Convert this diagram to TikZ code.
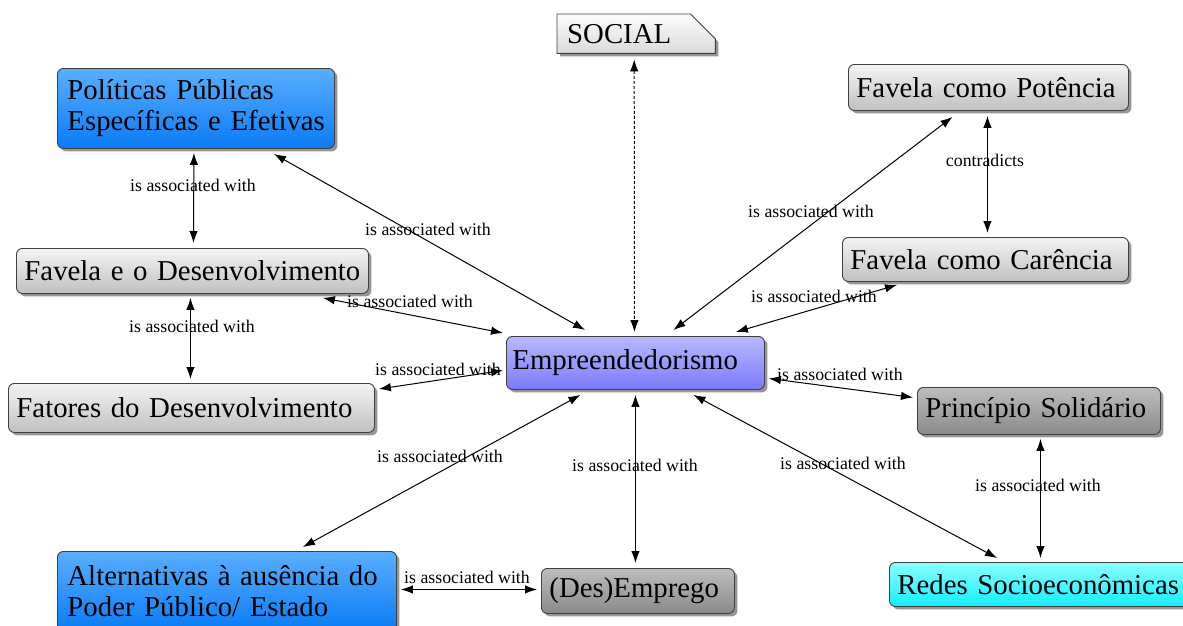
\documentclass[tikz,border=0pt]{standalone}
\usepackage{fontspec}
\setmainfont{Liberation Serif}
\usetikzlibrary{shadows,arrows.meta,calc,backgrounds}
\definecolor{grayT}{HTML}{F4F4F4}
\definecolor{grayB}{HTML}{C0C0C0}
\definecolor{dgrayT}{HTML}{BDBDBD}
\definecolor{dgrayB}{HTML}{8A8A8A}
\definecolor{blueT}{HTML}{5AAEFF}
\definecolor{blueB}{HTML}{0A7BF5}
\definecolor{lavT}{HTML}{B8B8FF}
\definecolor{lavB}{HTML}{7A7AFA}
\definecolor{cyanT}{HTML}{8AFFFF}
\definecolor{cyanB}{HTML}{14EEFF}
\definecolor{socT}{HTML}{FCFCFC}
\definecolor{socB}{HTML}{DADADA}
\newcommand\cmnodefont{\fontsize{28.8}{31}\selectfont\hyphenpenalty=10000\exhyphenpenalty=10000}
\newcommand\cmlabelfont{\fontsize{17.8}{20}\selectfont}
\begin{document}
\begin{tikzpicture}[x=1pt,y=-1pt,
  shad/.style={drop shadow={shadow xshift=3pt,shadow yshift=-3pt,opacity=0.55,fill=black!75}},
  box/.style={draw=black!75,line width=0.9pt,rounded corners=6pt,anchor=north west,
    inner xsep=6pt,inner ysep=2pt,align=left,font=\cmnodefont,shad},
  graybox/.style={box,top color=grayT,bottom color=grayB},
  dgraybox/.style={box,top color=dgrayT,bottom color=dgrayB},
  bluebox/.style={box,top color=blueT,bottom color=blueB},
  lavbox/.style={box,top color=lavT,bottom color=lavB},
  cyanbox/.style={box,top color=cyanT,bottom color=cyanB},
  lab/.style={font=\cmlabelfont,inner sep=0pt},
  arr/.style={{Latex[length=12pt,width=8.5pt]}-{Latex[length=12pt,width=8.5pt]},line width=1pt},
  darr/.style={arr,dash pattern=on 3pt off 2pt}]
\useasboundingbox (0,0) rectangle (1183,625);

% nodes
\node[anchor=north west,inner xsep=10pt,inner ysep=0pt,text width=138pt,minimum height=39pt,align=left,font=\cmnodefont] (social) at (557,14) {SOCIAL};
\begin{scope}[on background layer]
  \path[shad,draw=black!75,line width=0.9pt,top color=socT,bottom color=socB]
    (social.north west) -- ($(social.north east)+(-25,0)$) -- ($(social.north east)+(0,25)$)
    -- (social.south east) -- (social.south west) -- cycle;
\end{scope}

\node[bluebox,text width=269pt,minimum height=80pt,inner xsep=4pt] (pol) at (57,68) {\hspace*{6pt}Políticas Públicas\\\hspace*{6pt}Específicas e Efetivas};
\node[graybox,text width=268pt,minimum height=46pt] (pot) at (848,64) {\hspace*{2pt}Favela como Potência};
\node[graybox,text width=340pt,minimum height=45pt] (fdes) at (16,248) {\hspace*{2pt}Favela e o Desenvolvimento};
\node[graybox,text width=274pt,minimum height=44pt] (car) at (842,237) {\hspace*{2pt}Favela como Carência};
\node[lavbox,text width=246pt,minimum height=53pt] (emp) at (506,336) {Empreendedorismo};
\node[graybox,text width=354pt,minimum height=49pt] (fat) at (8,383) {\hspace*{2pt}Fatores do Desenvolvimento};
\node[dgraybox,text width=231pt,minimum height=47pt] (pri) at (917,387) {\hspace*{2pt}Princípio Solidário};
\node[bluebox,text width=331pt,minimum height=80pt,inner xsep=4pt] (alt) at (57,551) {\hspace*{6pt}Alternativas à ausência do\\\hspace*{6pt}Poder Público/ Estado};
\node[dgraybox,text width=181pt,minimum height=45pt] (des) at (541,568) {\hspace*{2pt}(Des)Emprego};
\node[cyanbox,text width=298pt,minimum height=44pt] (red) at (889,562) {\hspace*{2pt}Redes Socioeconômicas};

% connectors
\draw[darr] ($(social.south)+(-2,6)$) -- ($(emp.north)+(-1,-4)$);
\draw[arr] ($(pol.south)+(-2,4)$) -- ($(fdes.north)+(1,-5)$);
\draw[arr] ($(pol.south east)+(-61,5)$) -- ($(emp.north west)+(79,-6)$);
\draw[arr] ($(fdes.south east)+(-46,4)$) -- ($(emp.north west)+(-3,-3)$);
\draw[arr] ($(fdes.south)+(-2,4)$) -- ($(fat.north)+(-1,-4)$);
\draw[arr] ($(fat.north east)+(4,6)$) -- ($(emp.west)+(-3,7.5)$);
\draw[arr] ($(pot.south)+(-36,6)$) -- ($(emp.north)+(38,-6)$);
\draw[arr] ($(pot.south)+(-1,5)$) -- ($(car.north)+(2,-4)$);
\draw[arr] ($(car.south west)+(55,3)$) -- ($(emp.north east)+(-29,-4)$);
\draw[arr] ($(emp.east)+(4,15.5)$) -- ($(pri.west)+(-4,-13.5)$);
\draw[arr] ($(pri.south)+(1.5,4)$) -- ($(red.north)+(-4,-4)$);
\draw[arr] ($(emp.south)+(58,5)$) -- ($(red.north west)+(108,-4)$);
\draw[arr] ($(emp.south)+(0,5)$) -- ($(des.north)+(-2.5,-5)$);
\draw[arr] ($(emp.south)+(-55,5)$) -- ($(alt.north east)+(-94,-4)$);
\draw[arr] ($(alt.east)+(4,-2)$) -- ($(des.west)+(-4,-1.5)$);

% labels
\node[lab] (l1) at (193,185) {is associated with};
\node[lab] (l2) at (428,229) {is associated with};
\node[lab] (l3) at (410,301) {is associated with};
\node[lab] (l4) at (192,326) {is associated with};
\node[lab] (l5) at (438,369) {is associated with};
\node[lab] (l6) at (811,211) {is associated with};
\node[lab] (l7) at (985,160) {contradicts};
\node[lab] (l8) at (814,296) {is associated with};
\node[lab] (l9) at (840,374) {is associated with};
\node[lab] (l10) at (1038,485) {is associated with};
\node[lab] (l11) at (843,463) {is associated with};
\node[lab] (l12) at (635,465) {is associated with};
\node[lab] (l13) at (440,456) {is associated with};
\node[lab] (l14) at (467,577) {is associated with};
\end{tikzpicture}
\end{document}
